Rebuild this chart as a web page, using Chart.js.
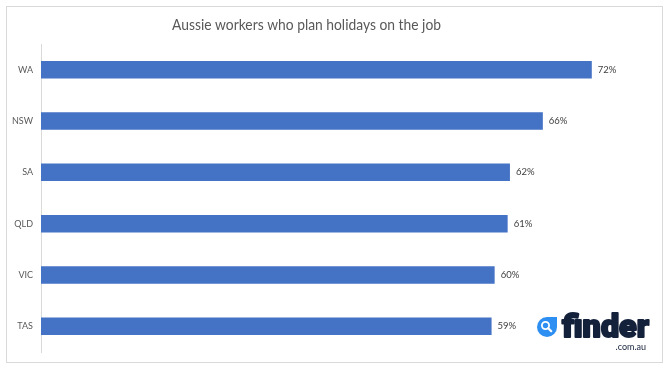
<!DOCTYPE html>
<html>
<head>
<meta charset="utf-8">
<script src="https://cdn.jsdelivr.net/npm/chart.js@4.4.1/dist/chart.umd.min.js"></script>
<style>
  html, body { margin: 0; padding: 0; background: #ffffff; }
  #wrap { position: relative; width: 668px; height: 372px; }
</style>
</head>
<body>
<div id="wrap"><canvas id="c" width="668" height="372"></canvas></div>
<script>
const chartTitle = "Aussie workers who plan holidays on the job";
const categories = ["WA", "NSW", "SA", "QLD", "VIC", "TAS"];
const values = [72, 65.6, 61.3, 61.0, 59.3, 58.9];
const valueLabels = ["72%", "66%", "62%", "61%", "60%", "59%"];

const frameAndTitle = {
  id: 'frameAndTitle',
  beforeDraw(chart) {
    const ctx = chart.ctx;
    ctx.save();
    ctx.fillStyle = '#ffffff';
    ctx.fillRect(0, 0, chart.width, chart.height);
    ctx.strokeStyle = '#d9d9d9';
    ctx.lineWidth = 1;
    ctx.strokeRect(6.5, 6.5, 656, 356);
    ctx.restore();
  },
  afterDraw(chart) {
    const ctx = chart.ctx;
    ctx.save();
    // title
    ctx.font = '15px Lato';
    ctx.fillStyle = '#595959';
    ctx.textBaseline = 'alphabetic';
    const w = ctx.measureText(chartTitle).width;
    const targetW = 269;
    ctx.translate(172, 30);
    ctx.scale(targetW / w, 1);
    ctx.fillText(chartTitle, 0, 0);
    ctx.restore();

    // value labels
    const meta = chart.getDatasetMeta(0);
    ctx.save();
    ctx.font = '9.5px Lato';
    ctx.fillStyle = '#404040';
    ctx.textBaseline = 'middle';
    ctx.textAlign = 'left';
    meta.data.forEach((bar, i) => {
      ctx.fillText(valueLabels[i], bar.x + 6, bar.y);
    });
    ctx.restore();

    // finder logo
    ctx.save();
    const cx = 547, cy = 327, r = 10;
    ctx.fillStyle = '#2e8ff2';
    ctx.beginPath();
    ctx.moveTo(cx + r, cy - r);
    ctx.lineTo(cx + r, cy);
    ctx.arc(cx, cy, r, 0, Math.PI * 1.5, false);
    ctx.closePath();
    ctx.fill();
    ctx.strokeStyle = '#ffffff';
    ctx.lineWidth = 1.8;
    ctx.beginPath();
    ctx.arc(cx - 1.5, cy - 1.5, 3.6, 0, Math.PI * 2);
    ctx.stroke();
    ctx.lineWidth = 2.2;
    ctx.lineCap = 'round';
    ctx.beginPath();
    ctx.moveTo(cx + 1.3, cy + 1.3);
    ctx.lineTo(cx + 4.2, cy + 4.2);
    ctx.stroke();

    ctx.fillStyle = '#14213a';
    ctx.strokeStyle = '#14213a';
    ctx.lineJoin = 'round';
    ctx.font = '900 30px Roboto';
    ctx.textBaseline = 'alphabetic';
    const fw = ctx.measureText('finder').width;
    ctx.translate(562, 337);
    ctx.scale(87 / fw, 1.04);
    ctx.lineWidth = 1.8;
    ctx.strokeText('finder', 0, 0);
    ctx.fillText('finder', 0, 0);
    ctx.restore();

    ctx.save();
    ctx.fillStyle = '#14213a';
    ctx.font = '9px Lato';
    ctx.textAlign = 'right';
    ctx.textBaseline = 'alphabetic';
    ctx.fillText('.com.au', 646, 350);
    ctx.restore();
  }
};

new Chart(document.getElementById('c'), {
  type: 'bar',
  data: {
    labels: categories,
    datasets: [{
      data: values,
      backgroundColor: '#4472c4',
      borderWidth: 0,
      barPercentage: 0.34,
      categoryPercentage: 1.0
    }]
  },
  options: {
    indexAxis: 'y',
    responsive: false,
    animation: false,
    devicePixelRatio: 1,
    layout: { padding: { left: 0, right: 15, top: 44, bottom: 20 } },
    plugins: {
      legend: { display: false },
      title: { display: false },
      tooltip: { enabled: false }
    },
    scales: {
      x: {
        display: false,
        min: 0,
        max: 80
      },
      y: {
        afterFit(scale) { scale.width = 41; },
        grid: { display: false, drawTicks: false },
        border: { display: true, color: '#d9d9d9', width: 1 },
        ticks: {
          color: '#595959',
          font: { family: 'Lato', size: 9 },
          padding: 8
        }
      }
    }
  },
  plugins: [frameAndTitle]
});
</script>
</body>
</html>
